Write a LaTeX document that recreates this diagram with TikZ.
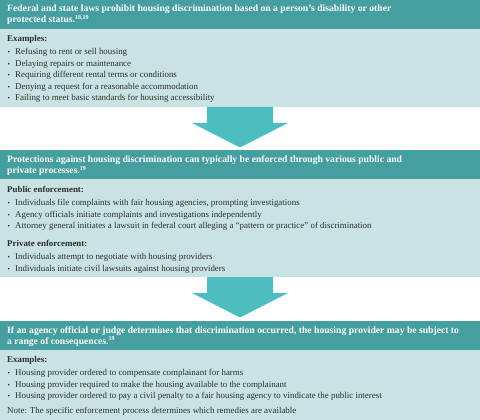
\documentclass[tikz,border=0pt]{standalone}
\usepackage{fontspec}
\setmainfont{Liberation Serif}
\definecolor{hdcol}{RGB}{69,158,160}
\definecolor{bdcol}{RGB}{201,227,228}
\definecolor{arcol}{RGB}{78,189,191}
\definecolor{txcol}{RGB}{45,45,45}
\tikzset{
  hdbox/.style={fill=hdcol, draw=none, anchor=north west, minimum width=480pt, inner sep=0, outer sep=0},
  bdbox/.style={fill=bdcol, draw=none, anchor=north west, minimum width=480pt, inner sep=0, outer sep=0},
  hdtext/.style={anchor=base west, inner sep=0, text=white, font=\bfseries\fontsize{9.65}{11}\selectfont},
  subhd/.style={anchor=base west, inner sep=0, text=txcol, font=\bfseries\fontsize{8.9}{11}\selectfont},
  itemtext/.style={anchor=base west, inner sep=0, text=txcol, font=\fontsize{8.9}{11}\selectfont},
  bul/.style={anchor=base west, inner sep=0, text=txcol, font=\fontsize{7}{11}\selectfont},
  downarrow/.style={fill=arcol, draw=none}
}
\newcommand{\sups}[1]{\textsuperscript{\fontsize{6}{6}\selectfont #1}}
\begin{document}
\begin{tikzpicture}[x=1pt,y=-1pt]
\useasboundingbox (0,0) rectangle (480,420);
% Box 1
\node[hdbox, minimum height=29pt] (h1) at (0,0) {};
\node[bdbox, minimum height=78pt] (b1) at (0,29) {};
\node[hdtext] (h1a) at (7,12) {Federal and state laws prohibit housing discrimination based on a person’s disability or other};
\node[hdtext] (h1b) at (7,23) {protected status.\sups{18,19}};
\node[subhd] (e1) at (7,41.5) {Examples:};
\foreach \y/\t [count=\i] in {55/{Refusing to rent or sell housing},66.5/{Delaying repairs or maintenance},78/{Requiring different rental terms or conditions},89.5/{Denying a request for a reasonable accommodation},101/{Failing to meet basic standards for housing accessibility}}{
  \node[bul] (b1bul\i) at (7.5,\y) {•};
  \node[itemtext] (b1it\i) at (15,\y) {\t};
}
% Arrow 1
\fill[downarrow] (207,107) -- (273,107) -- (273,123) -- (288,123) -- (240,147.5) -- (192,123) -- (207,123) -- cycle;
% Box 2
\node[hdbox, minimum height=29pt] (h2) at (0,150) {};
\node[bdbox, minimum height=98pt] (b2) at (0,179) {};
\node[hdtext] (h2a) at (7,163) {Protections against housing discrimination can typically be enforced through various public and};
\node[hdtext] (h2b) at (7,174) {private processes.\sups{19}};
\node[subhd] (p2) at (7,192.5) {Public enforcement:};
\foreach \y/\t [count=\i] in {205.5/{Individuals file complaints with fair housing agencies, prompting investigations},217/{Agency officials initiate complaints and investigations independently},228.5/{Attorney general initiates a lawsuit in federal court alleging a “pattern or practice” of discrimination}}{
  \node[bul] (b2bul\i) at (7.5,\y) {•};
  \node[itemtext] (b2it\i) at (15,\y) {\t};
}
\node[subhd] (q2) at (7,246.5) {Private enforcement:};
\foreach \y/\t [count=\i] in {259.5/{Individuals attempt to negotiate with housing providers},271/{Individuals initiate civil lawsuits against housing providers}}{
  \node[bul] (b2cbul\i) at (7.5,\y) {•};
  \node[itemtext] (b2cit\i) at (15,\y) {\t};
}
% Arrow 2
\fill[downarrow] (207,277) -- (273,277) -- (273,293) -- (288,293) -- (240,317.5) -- (192,293) -- (207,293) -- cycle;
% Box 3
\node[hdbox, minimum height=29pt] (h3) at (0,321) {};
\node[bdbox, minimum height=70pt] (b3) at (0,350) {};
\node[hdtext] (h3a) at (7,333.5) {If an agency official or judge determines that discrimination occurred, the housing provider may be subject to};
\node[hdtext] (h3b) at (7,344.5) {a range of consequences.\sups{19}};
\node[subhd] (e3) at (7,362.5) {Examples:};
\foreach \y/\t [count=\i] in {375.5/{Housing provider ordered to compensate complainant for harms},387/{Housing provider required to make the housing available to the complainant},398.5/{Housing provider ordered to pay a civil penalty to a fair housing agency to vindicate the public interest}}{
  \node[bul] (b3bul\i) at (7.5,\y) {•};
  \node[itemtext] (b3it\i) at (15,\y) {\t};
}
\node[itemtext] (n3) at (7,413) {Note: The specific enforcement process determines which remedies are available};
\end{tikzpicture}
\end{document}
